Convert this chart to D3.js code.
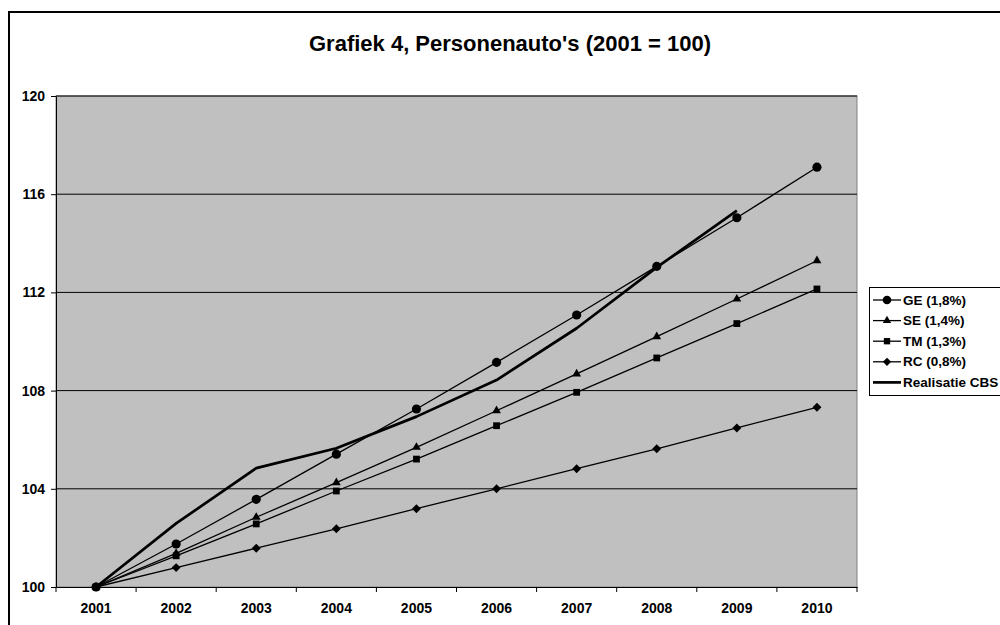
<!DOCTYPE html>
<html><head><meta charset="utf-8">
<script src="https://cdn.jsdelivr.net/npm/d3@7"></script>
<style>
body{margin:0;background:#fff;}
svg{display:block;font-family:"Liberation Sans",Arial,sans-serif;}
</style></head>
<body><svg id="c" width="1000" height="625"></svg>
<script>
const years = ["2001","2002","2003","2004","2005","2006","2007","2008","2009","2010"];
const yTicks = [100,104,108,112,116,120];
const GE  = [100,101.75,103.57,105.41,107.25,109.15,111.08,113.06,115.04,117.10];
const SE  = [100,101.37,102.84,104.25,105.69,107.18,108.68,110.20,111.73,113.29];
const TM  = [100,101.27,102.57,103.91,105.21,106.57,107.93,109.33,110.73,112.14];
const RC  = [100,100.79,101.58,102.37,103.19,104.00,104.82,105.63,106.48,107.32];
const CBS = [100,102.59,104.84,105.65,106.94,108.43,110.54,113.02,115.33];
const seriesNames = ["GE (1,8%)","SE (1,4%)","TM (1,3%)","RC (0,8%)","Realisatie CBS"];
const title = "Grafiek 4, Personenauto's (2001 = 100)";

const FONT = "Liberation Sans, Arial, sans-serif";
const svg = d3.select("#c");
// outer frame
svg.append("path").attr("d","M9,700 L9,12 L1100,12").attr("fill","none").attr("stroke","#000").attr("stroke-width",2);

const L=56, R=857, T=96, B=587;
const x = d3.scaleBand().domain(years).range([L,R]).padding(0);
const y = d3.scaleLinear().domain([100,120]).range([B,T]);

svg.append("rect").attr("x",L).attr("y",T).attr("width",R-L).attr("height",B-T)
  .attr("fill","#c0c0c0").attr("stroke","#808080").attr("stroke-width",1);

// gridlines
svg.append("g").selectAll("line").data(yTicks.filter(d=>d>100)).join("line")
  .attr("x1",L).attr("x2",R).attr("y1",d=>y(d)).attr("y2",d=>y(d))
  .attr("stroke","#000").attr("stroke-width",1);

// axes
const yAxis = d3.axisLeft(y).tickValues(yTicks).tickSize(5).tickSizeOuter(0).tickPadding(6);
const gy = svg.append("g").attr("transform",`translate(${L},0)`).call(yAxis);
gy.selectAll("text").attr("font-size",14).attr("font-weight","bold").attr("fill","#000")
  .attr("font-family",FONT);
gy.select(".domain").attr("stroke","#000");

const xAxis = d3.axisBottom(x).tickSize(0).tickPadding(16);
const gx = svg.append("g").attr("transform",`translate(0,${B})`).call(xAxis);
gx.selectAll("text").attr("font-size",14).attr("font-weight","bold").attr("fill","#000")
  .attr("font-family",FONT);
gx.select(".domain").attr("stroke","#000");
// category boundary ticks
const bounds = years.map(d=>x(d)).concat([R]);
gx.append("g").selectAll("line").data(bounds).join("line")
  .attr("x1",d=>d).attr("x2",d=>d).attr("y1",0).attr("y2",5).attr("stroke","#000");

const cx = d => x(d)+x.bandwidth()/2;
const line = d3.line().x((v,i)=>cx(years[i])).y(v=>y(v));

const series = [
  {vals:GE, sym:d3.symbolCircle, size:66, rot:0},
  {vals:SE, sym:d3.symbolTriangle, size:34, rot:0},
  {vals:TM, sym:d3.symbolSquare, size:46, rot:0},
  {vals:RC, sym:d3.symbolSquare, size:40, rot:45},
];
series.forEach(s=>{
  svg.append("path").datum(s.vals).attr("d",line).attr("fill","none").attr("stroke","#000").attr("stroke-width",1.3);
  svg.append("g").selectAll("path").data(s.vals).join("path")
    .attr("transform",(v,i)=>`translate(${cx(years[i])},${y(v)}) rotate(${s.rot})`)
    .attr("d",d3.symbol().type(s.sym).size(s.size)).attr("fill","#000");
});
svg.append("path").datum(CBS).attr("d",line).attr("fill","none").attr("stroke","#000").attr("stroke-width",2.7).attr("stroke-linejoin","round");

// title
svg.append("text").attr("x",510).attr("y",51).attr("text-anchor","middle")
  .attr("font-size",22).attr("font-weight","bold").text(title);

// legend
const lg = svg.append("g");
lg.append("rect").attr("x",869.5).attr("y",287.5).attr("width",140).attr("height",108)
  .attr("fill","#fff").attr("stroke","#000").attr("stroke-width",1);
const syms=[d3.symbolCircle,d3.symbolTriangle,d3.symbolSquare,d3.symbolSquare,null];
const sizes=[58,30,40,34,0];
const rots=[0,0,0,45,0];
seriesNames.forEach((n,i)=>{
  const yy = 300 + i*20.6;
  lg.append("line").attr("x1",873).attr("x2",901).attr("y1",yy).attr("y2",yy)
    .attr("stroke","#000").attr("stroke-width",i===4?2.7:1.3);
  if(syms[i]) lg.append("path").attr("transform",`translate(887,${yy}) rotate(${rots[i]})`)
    .attr("d",d3.symbol().type(syms[i]).size(sizes[i])).attr("fill","#000");
  lg.append("text").attr("x",903).attr("y",yy+4.5).attr("font-size",13.5).attr("font-weight","bold").text(n);
});
</script></body></html>
